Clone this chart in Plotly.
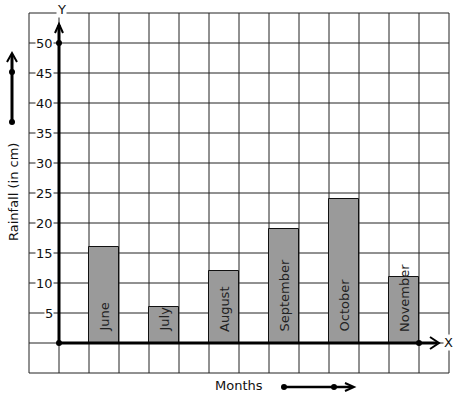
import plotly.graph_objects as go

months = ["June", "July", "August", "September", "October", "November"]
rainfall = [16, 6, 12, 19, 24, 11]
bar_left = [1, 3, 5, 7, 9, 11]
y_ticks = [5, 10, 15, 20, 25, 30, 35, 40, 45, 50]

W, H = 457, 399
OX, OY, SX, SY = 59, 343, 30, 6  # pixel origin and pixels per unit


def dx(px):
    return (px - OX) / SX


def dy(py):
    return (OY - py) / SY


FONT = "DejaVu Sans"
fig = go.Figure()

fig.add_trace(go.Bar(
    x=[b + 0.5 for b in bar_left], y=rainfall, width=1,
    marker=dict(color="#9a9a9a", line=dict(color="#111", width=1)),
    hoverinfo="skip", showlegend=False))

shapes = []
# grid
for gx in range(-1, 14):
    shapes.append(dict(type="line", x0=gx, x1=gx, y0=-5, y1=55, layer="below",
                       line=dict(color="#222", width=1)))
for gy in range(-5, 56, 5):
    shapes.append(dict(type="line", x0=-1, x1=13, y0=gy, y1=gy, layer="below",
                       line=dict(color="#222", width=1)))

AX = dict(color="black", width=3)
# y axis
shapes.append(dict(type="line", x0=0, x1=0, y0=0, y1=dy(25), line=AX))
shapes.append(dict(type="path", path=f"M {dx(55)},{dy(33)} L {dx(59)},{dy(24)} L {dx(63)},{dy(33)}",
                   line=dict(color="black", width=2)))
# x axis
shapes.append(dict(type="line", x0=0, x1=dx(437), y0=0, y1=0, line=AX))
shapes.append(dict(type="path", path=f"M {dx(430)},{dy(337)} L {dx(439)},{dy(343)} L {dx(430)},{dy(349)}",
                   line=dict(color="black", width=2)))
# left arrow
shapes.append(dict(type="line", x0=dx(12), x1=dx(12), y0=dy(122), y1=dy(55), line=AX))
shapes.append(dict(type="path", path=f"M {dx(7)},{dy(62)} L {dx(12)},{dy(53)} L {dx(17)},{dy(62)}",
                   line=dict(color="black", width=2)))
# bottom arrow
shapes.append(dict(type="line", x0=dx(284), x1=dx(352), y0=dy(387), y1=dy(387),
                   line=dict(color="black", width=2.5)))
shapes.append(dict(type="path", path=f"M {dx(345)},{dy(383)} L {dx(354)},{dy(387)} L {dx(345)},{dy(391)}",
                   line=dict(color="black", width=2)))

fig.add_trace(go.Scatter(
    x=[0, 0, 12, dx(12), dx(12), dx(284), dx(334)],
    y=[0, 50, 0, dy(72), dy(122), dy(387), dy(387)],
    mode="markers", marker=dict(color="black", size=6),
    hoverinfo="skip", showlegend=False))

ann = []
for t in y_ticks:
    ann.append(dict(x=dx(54), y=t, text=str(t), showarrow=False, xanchor="right",
                    yanchor="middle", bgcolor="white", borderpad=0,
                    font=dict(family=FONT, size=13, color="#111")))
for m, b in zip(months, bar_left):
    ann.append(dict(x=b + 0.5, y=dy(334), text=m, showarrow=False, textangle=-90,
                    xanchor="center", yanchor="bottom",
                    font=dict(family=FONT, size=13, color="#222")))
ann.append(dict(x=dx(61), y=dy(9), text="Y", showarrow=False, bgcolor="white", borderpad=0,
                font=dict(family=FONT, size=13, color="#111")))
ann.append(dict(x=dx(448), y=dy(342), text="X", showarrow=False, bgcolor="white", borderpad=0,
                font=dict(family=FONT, size=13, color="#111")))
ann.append(dict(x=dx(239), y=dy(385), text="Months", showarrow=False,
                font=dict(family=FONT, size=13, color="#111")))
ann.append(dict(x=dx(13), y=dy(192), text="Rainfall (in cm)", showarrow=False, textangle=-90,
                font=dict(family=FONT, size=13, color="#111")))

fig.update_layout(
    width=W, height=H, autosize=False, margin=dict(l=0, r=0, t=0, b=0),
    paper_bgcolor="white", plot_bgcolor="white",
    xaxis=dict(range=[dx(0), dx(W)], visible=False, fixedrange=True),
    yaxis=dict(range=[dy(H), dy(0)], visible=False, fixedrange=True),
    shapes=shapes, annotations=ann, bargap=0)

fig.write_html("out.html", config={"displayModeBar": False},
               post_script="document.body.style.margin='0px';document.body.style.overflow='hidden';")
